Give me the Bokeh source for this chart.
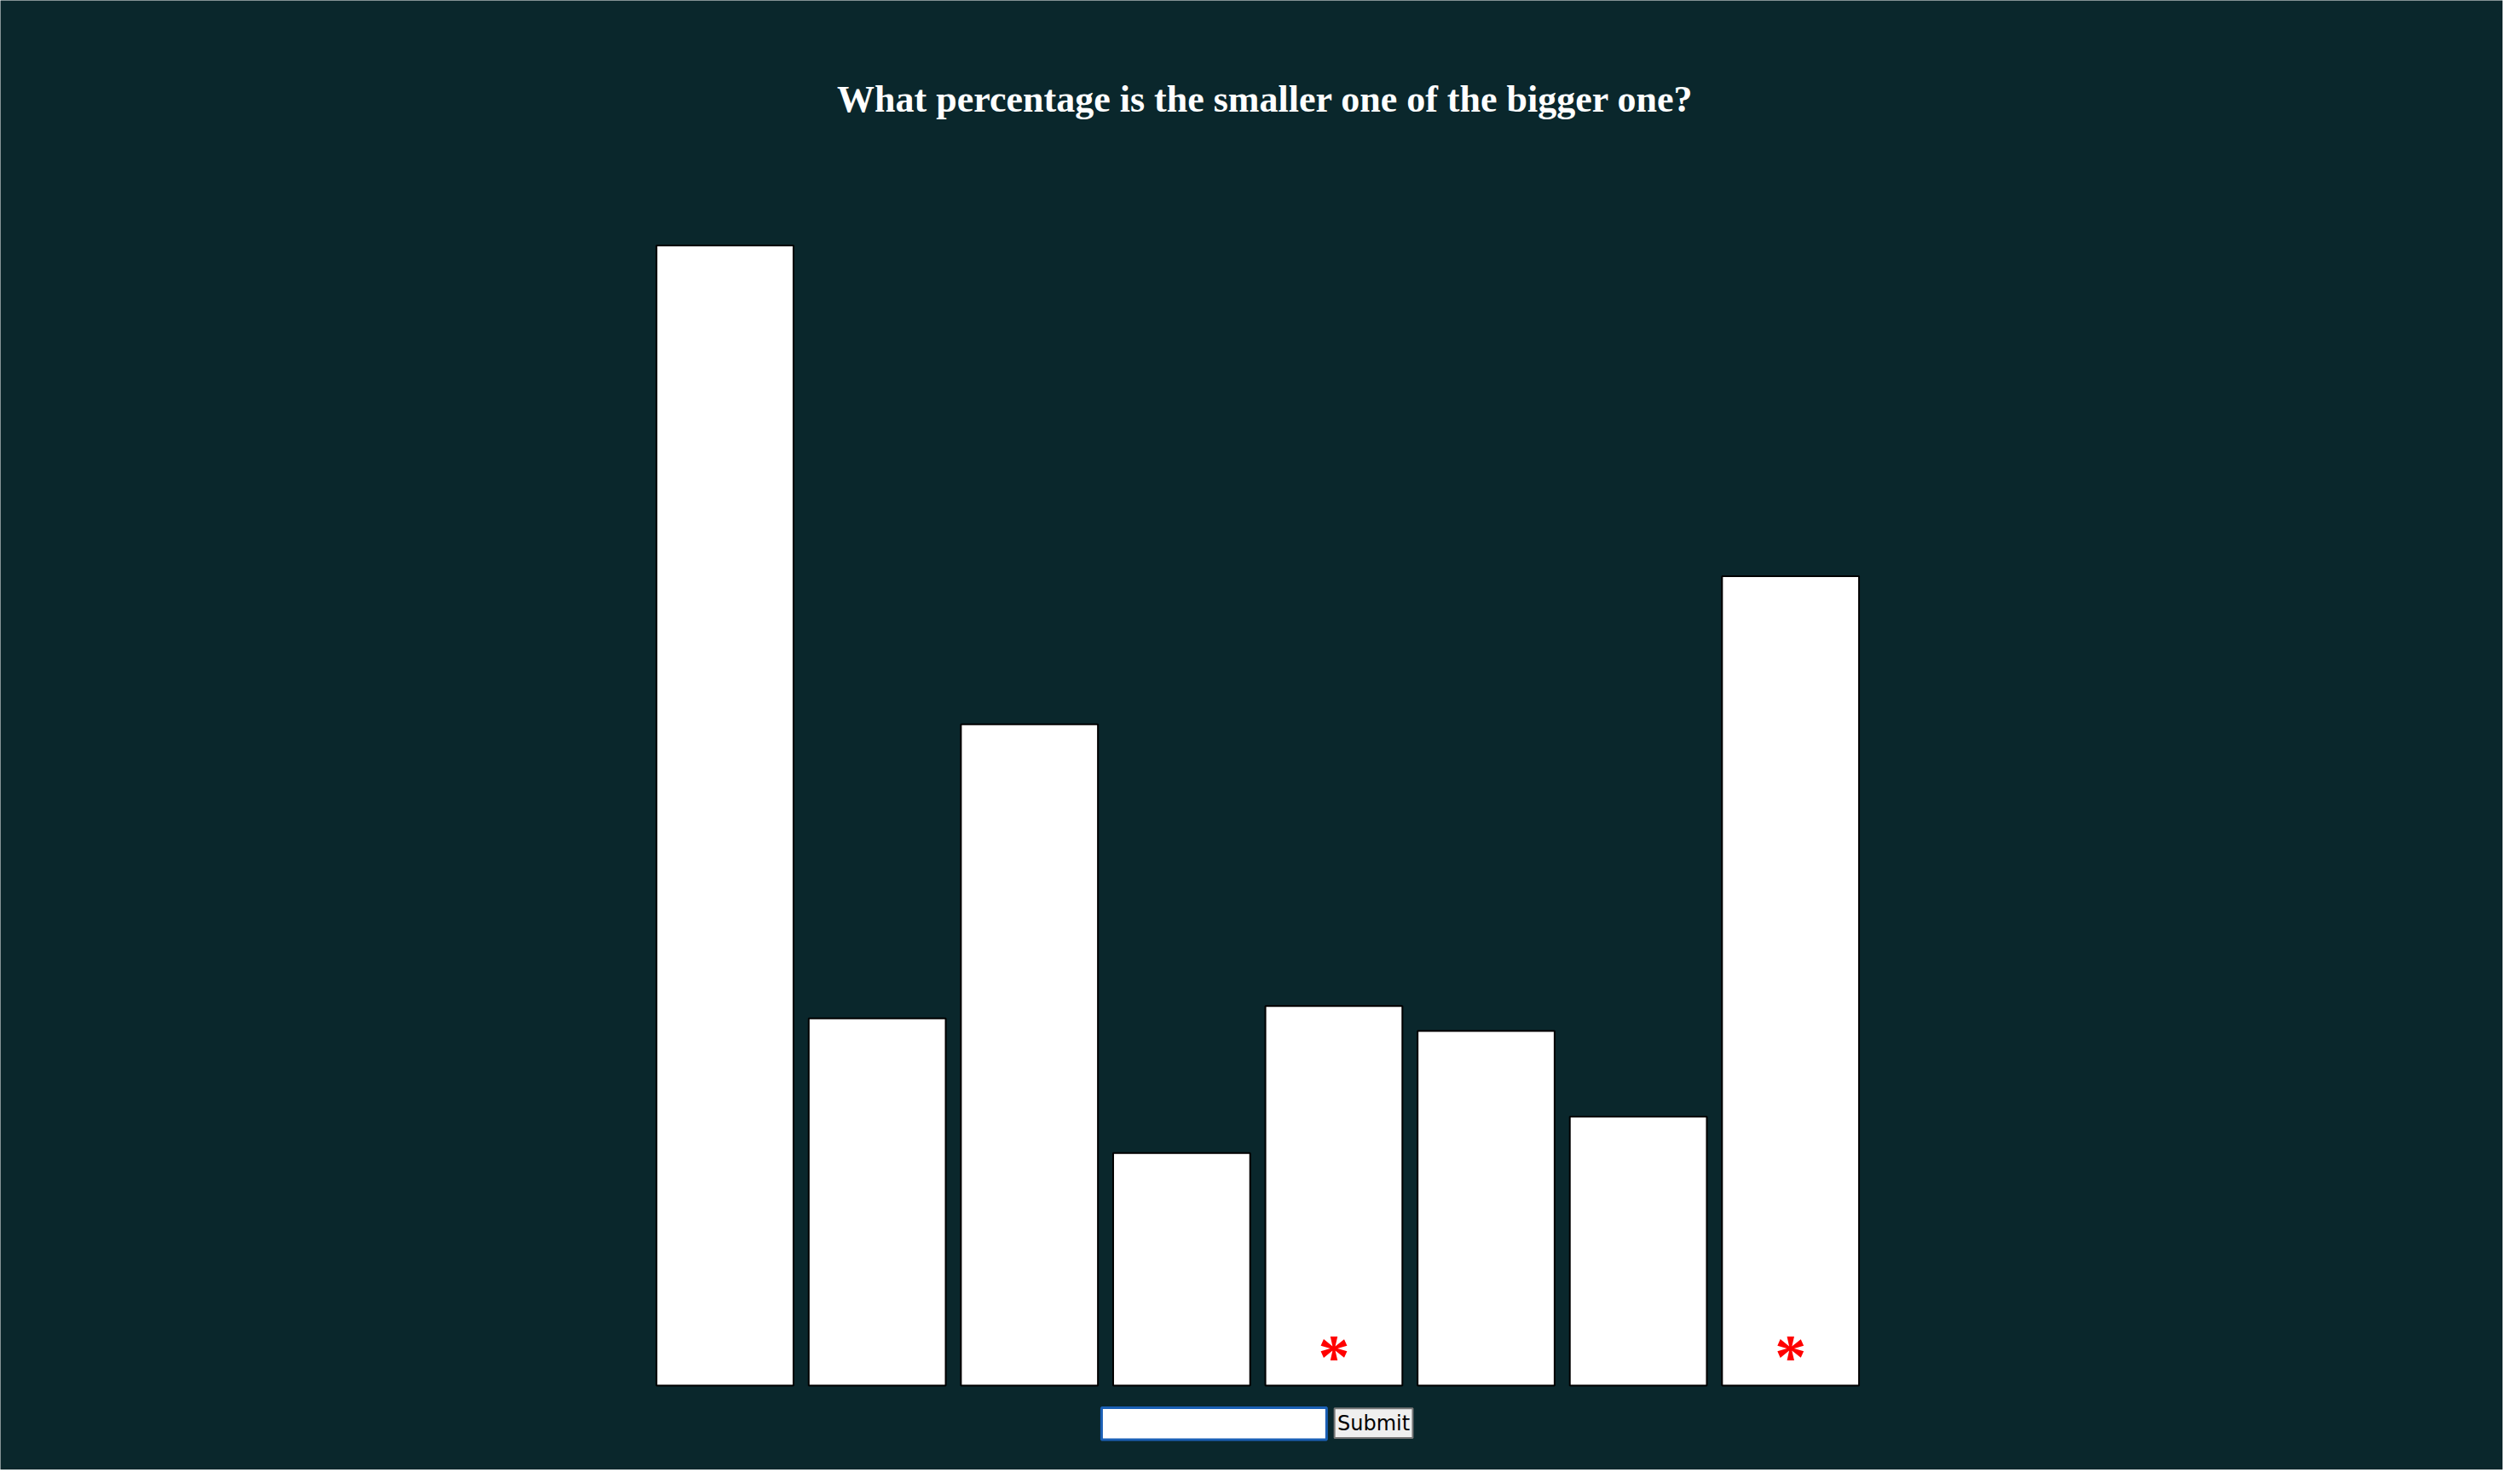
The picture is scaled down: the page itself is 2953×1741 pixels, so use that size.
from bokeh.plotting import figure
from bokeh.models import Range1d
from bokeh.core.properties import value
from bokeh.embed import file_html
from bokeh.resources import INLINE

title = "What percentage is the smaller one of the bigger one?"
positions = [1, 2, 3, 4, 5, 6, 7, 8]
heights = [100, 32.2, 58.0, 20.4, 33.3, 31.1, 23.6, 71.0]
marked = [5, 8]

bg = "#0a272c"
p = figure(width=2936, height=1724, output_backend="svg", toolbar_location=None,
           x_range=Range1d(-3.76, 12.68), y_range=Range1d(-7.4, 121.5),
           background_fill_color=bg, border_fill_color=bg, min_border=0)
p.axis.visible = False
p.grid.visible = False
p.outline_line_color = None

p.vbar(x=positions, top=heights, bottom=0, width=0.9,
       fill_color="white", line_color="black", line_width=2)

p.text(x=marked, y=[5.6] * len(marked), text=["*"] * len(marked),
       text_color="red", text_font=value("Liberation Serif"), text_font_style="bold",
       text_font_size="74px", text_align="center", text_baseline="top")

p.text(x=[4.55], y=[112.8], text=[title], text_color="white",
       text_font=value("Liberation Serif"), text_font_style="bold",
       text_font_size="44px", text_align="center", text_baseline="middle")

# input box and button
p.quad(left=[3.474], right=[4.952], bottom=[-4.74], top=[-1.95],
       fill_color="white", line_color="#1a5fb4", line_width=3)
p.quad(left=[5.004], right=[5.518], bottom=[-4.6], top=[-2.0],
       fill_color="#efefef", line_color="#767676", line_width=2)
p.text(x=[5.261], y=[-3.3], text=["Submit"], text_color="black",
       text_font=value("DejaVu Sans"), text_font_size="24px",
       text_align="center", text_baseline="middle")

open("out.html", "w").write(file_html(p, INLINE))
